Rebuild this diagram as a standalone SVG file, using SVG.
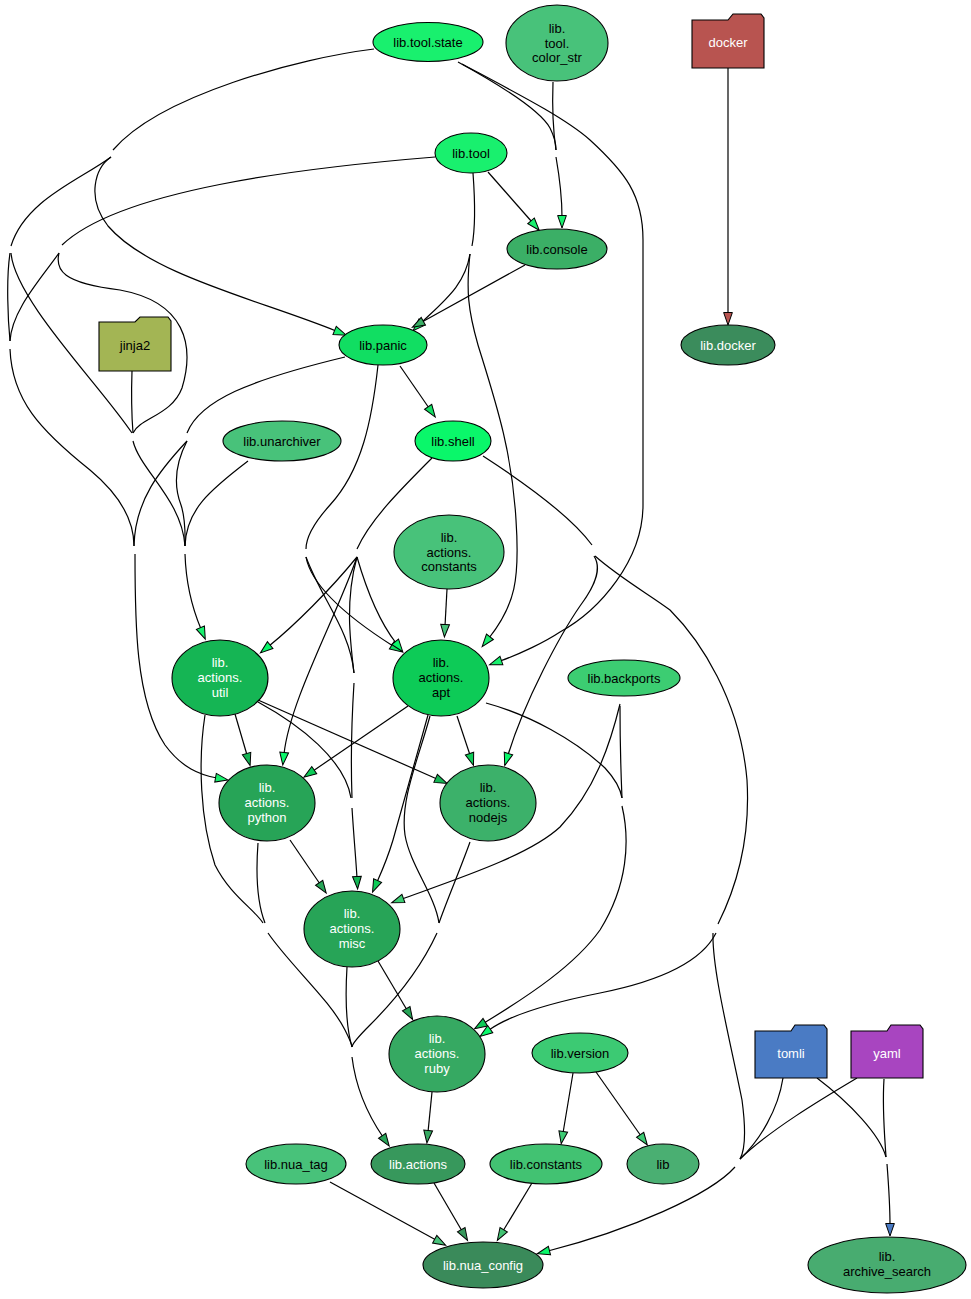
<svg xmlns="http://www.w3.org/2000/svg" width="971" height="1299" viewBox="0 0 971 1299">
<style>
  .node ellipse, .node path { stroke: #000; stroke-width: 1.1; }
  .node text { font-family: "Liberation Sans", Arial, sans-serif; font-size: 13px; text-anchor: middle; fill: #000; }
  .node text.w { fill: #fff; }
  #edges path { fill: none; stroke: #000; stroke-width: 1.2; }
  .ah { stroke: #000; stroke-width: 0.8; }
</style>
<defs>
  <marker id="m-bright" viewBox="0 0 10 7" refX="1.2" refY="3.5" markerWidth="12.5" markerHeight="8.75" markerUnits="userSpaceOnUse" orient="auto" overflow="visible"><path class="ah" d="M0,0 L10,3.5 L0,7 Z" fill="#19F06E"/></marker>
  <marker id="m-console" viewBox="0 0 10 7" refX="1.2" refY="3.5" markerWidth="12.5" markerHeight="8.75" markerUnits="userSpaceOnUse" orient="auto" overflow="visible"><path class="ah" d="M0,0 L10,3.5 L0,7 Z" fill="#3BAF66"/></marker>
  <marker id="m-panic" viewBox="0 0 10 7" refX="1.2" refY="3.5" markerWidth="12.5" markerHeight="8.75" markerUnits="userSpaceOnUse" orient="auto" overflow="visible"><path class="ah" d="M0,0 L10,3.5 L0,7 Z" fill="#11DE62"/></marker>
  <marker id="m-shell" viewBox="0 0 10 7" refX="1.2" refY="3.5" markerWidth="12.5" markerHeight="8.75" markerUnits="userSpaceOnUse" orient="auto" overflow="visible"><path class="ah" d="M0,0 L10,3.5 L0,7 Z" fill="#0AF76A"/></marker>
  <marker id="m-util" viewBox="0 0 10 7" refX="1.2" refY="3.5" markerWidth="12.5" markerHeight="8.75" markerUnits="userSpaceOnUse" orient="auto" overflow="visible"><path class="ah" d="M0,0 L10,3.5 L0,7 Z" fill="#15B554"/></marker>
  <marker id="m-apt" viewBox="0 0 10 7" refX="1.2" refY="3.5" markerWidth="12.5" markerHeight="8.75" markerUnits="userSpaceOnUse" orient="auto" overflow="visible"><path class="ah" d="M0,0 L10,3.5 L0,7 Z" fill="#0DCB57"/></marker>
  <marker id="m-python" viewBox="0 0 10 7" refX="1.2" refY="3.5" markerWidth="12.5" markerHeight="8.75" markerUnits="userSpaceOnUse" orient="auto" overflow="visible"><path class="ah" d="M0,0 L10,3.5 L0,7 Z" fill="#27A457"/></marker>
  <marker id="m-ruby" viewBox="0 0 10 7" refX="1.2" refY="3.5" markerWidth="12.5" markerHeight="8.75" markerUnits="userSpaceOnUse" orient="auto" overflow="visible"><path class="ah" d="M0,0 L10,3.5 L0,7 Z" fill="#36A962"/></marker>
  <marker id="m-back" viewBox="0 0 10 7" refX="1.2" refY="3.5" markerWidth="12.5" markerHeight="8.75" markerUnits="userSpaceOnUse" orient="auto" overflow="visible"><path class="ah" d="M0,0 L10,3.5 L0,7 Z" fill="#3CCD72"/></marker>
  <marker id="m-version" viewBox="0 0 10 7" refX="1.2" refY="3.5" markerWidth="12.5" markerHeight="8.75" markerUnits="userSpaceOnUse" orient="auto" overflow="visible"><path class="ah" d="M0,0 L10,3.5 L0,7 Z" fill="#3CCA73"/></marker>
  <marker id="m-tag" viewBox="0 0 10 7" refX="1.2" refY="3.5" markerWidth="12.5" markerHeight="8.75" markerUnits="userSpaceOnUse" orient="auto" overflow="visible"><path class="ah" d="M0,0 L10,3.5 L0,7 Z" fill="#48C27A"/></marker>
  <marker id="m-actions" viewBox="0 0 10 7" refX="1.2" refY="3.5" markerWidth="12.5" markerHeight="8.75" markerUnits="userSpaceOnUse" orient="auto" overflow="visible"><path class="ah" d="M0,0 L10,3.5 L0,7 Z" fill="#37985C"/></marker>
  <marker id="m-const" viewBox="0 0 10 7" refX="1.2" refY="3.5" markerWidth="12.5" markerHeight="8.75" markerUnits="userSpaceOnUse" orient="auto" overflow="visible"><path class="ah" d="M0,0 L10,3.5 L0,7 Z" fill="#42C272"/></marker>
  <marker id="m-tomli" viewBox="0 0 10 7" refX="1.2" refY="3.5" markerWidth="12.5" markerHeight="8.75" markerUnits="userSpaceOnUse" orient="auto" overflow="visible"><path class="ah" d="M0,0 L10,3.5 L0,7 Z" fill="#4A7BC4"/></marker>
  <marker id="m-docker" viewBox="0 0 10 7" refX="1.2" refY="3.5" markerWidth="12.5" markerHeight="8.75" markerUnits="userSpaceOnUse" orient="auto" overflow="visible"><path class="ah" d="M0,0 L10,3.5 L0,7 Z" fill="#B85450"/></marker>
</defs>
<rect width="971" height="1299" fill="#fff"/>

<g id="edges">
  <!-- upper-left bundle -->
  <path d="M374,49 C300,58 160,95 113,150"/>
  <path d="M111,157 C80,180 25,200 11,246"/>
  <path d="M111,157 C95,168 86,198 108,226 C150,275 260,300 336,331" marker-end="url(#m-bright)"/>
  <path d="M435,157 C300,168 120,190 62,245"/>
  <path d="M10,253 C6,280 8,320 10,341"/>
  <path d="M11,253 C15,300 100,385 132,433"/>
  <path d="M59,253 C55,270 62,283 120,290 C185,302 195,345 182,388 C172,415 140,418 133,433"/>
  <path d="M59,253 C40,280 12,310 10,341"/>
  <path d="M132,371 C131,400 132,420 133,433"/>
  <path d="M10,349 C12,400 40,430 90,470 C120,495 134,520 134,546"/>
  <path d="M133,441 C140,470 182,500 185,546"/>
  <path d="M345,357 C250,380 200,400 187,433"/>
  <path d="M187,441 C160,470 135,500 134,546"/>
  <path d="M187,441 C172,470 176,492 181,505 C186,520 185,535 185,546"/>
  <path d="M248,461 C210,490 186,510 185,546"/>
  <path d="M185,554 C186,585 193,610 201,629" marker-end="url(#m-bright)"/>
  <path d="M135,554 C135,620 135,700 165,745 C182,768 200,775 217,778" marker-end="url(#m-bright)"/>

  <!-- top-middle -->
  <path d="M458,62 C500,85 540,110 550,128 C555,138 556,145 556,150"/>
  <path d="M553,82 C552,110 553,130 556,150"/>
  <path d="M556,157 C560,180 562,200 562,217" marker-end="url(#m-bright)"/>
  <path d="M462,64 C520,95 565,118 590,140 C625,172 643,195 643,240 L643,505 C643,560 600,610 560,632 C545,642 520,654 500,661" marker-end="url(#m-bright)"/>
  <path d="M488,172 L532,222" marker-end="url(#m-bright)"/>
  <path d="M473,173 C475,200 476,225 472,246"/>
  <path d="M470,254 C465,285 445,300 421,323" marker-end="url(#m-bright)"/>
  <path d="M470,254 C466,290 468,310 478,345 C495,400 512,450 516,520 C520,580 515,605 489,638" marker-end="url(#m-bright)"/>
  <path d="M525,265 L422,322" marker-end="url(#m-console)"/>
  <path d="M728,68 L728,314" marker-end="url(#m-docker)"/>

  <!-- middle -->
  <path d="M400,366 L429,408" marker-end="url(#m-panic)"/>
  <path d="M378,365 C372,420 362,470 330,505 C312,525 306,540 306,549"/>
  <path d="M306,557 C312,590 360,625 393,646" marker-end="url(#m-panic)"/>
  <path d="M306,557 C322,600 350,630 354,673"/>
  <path d="M432,458 C400,490 370,520 357,549"/>
  <path d="M357,557 C330,590 295,625 269,646" marker-end="url(#m-shell)"/>
  <path d="M357,557 C335,620 290,700 284,754" marker-end="url(#m-shell)"/>
  <path d="M357,557 C368,595 382,625 396,643" marker-end="url(#m-shell)"/>
  <path d="M357,557 C345,600 350,640 354,673"/>
  <path d="M354,683 C351,730 351,770 352,798"/>
  <path d="M258,702 C300,725 345,760 351,798"/>
  <path d="M352,808 C354,840 356,860 357,878" marker-end="url(#m-util)"/>
  <path d="M447,589 L445,626" marker-end="url(#m-tag)"/>
  <path d="M408,706 L313,771" marker-end="url(#m-apt)"/>
  <path d="M457,716 L470,755" marker-end="url(#m-apt)"/>
  <path d="M235,714 L247,755" marker-end="url(#m-util)"/>
  <path d="M258,700 L437,779" marker-end="url(#m-util)"/>

  <!-- right side -->
  <path d="M483,456 C520,480 570,515 592,545"/>
  <path d="M594,556 C601,567 598,582 580,606 C560,635 525,700 508,755" marker-end="url(#m-shell)"/>
  <path d="M595,556 C620,578 650,595 670,610 C700,640 740,700 747,780 C750,830 740,880 718,924"/>
  <path d="M486,703 C530,715 575,740 605,768 C618,782 621,792 622,798"/>
  <path d="M620,706 C620,740 621,775 622,798"/>
  <path d="M620,704 C610,745 595,790 560,827 C530,855 460,878 402,899" marker-end="url(#m-back)"/>
  <path d="M622,806 C630,840 628,885 600,930 C575,965 530,995 484,1023" marker-end="url(#m-apt)"/>
  <path d="M716,933 C700,965 650,983 600,993 C550,1003 510,1015 489,1030" marker-end="url(#m-shell)"/>
  <path d="M713,933 C712,970 730,1040 742,1100 C746,1130 745,1150 740,1159"/>
  <path d="M783,1078 C778,1110 760,1140 740,1159"/>
  <path d="M857,1078 C820,1100 770,1130 740,1159"/>
  <path d="M735,1167 C710,1195 630,1230 548,1251" marker-end="url(#m-shell)"/>
  <path d="M817,1078 C850,1103 880,1135 886,1157"/>
  <path d="M884,1079 C882,1110 885,1140 886,1157"/>
  <path d="M887,1164 C889,1190 890,1210 890,1225" marker-end="url(#m-tomli)"/>

  <!-- lower-middle -->
  <path d="M428,715 C415,760 403,805 393,840 C387,860 381,873 377,882" marker-end="url(#m-apt)"/>
  <path d="M430,716 C418,760 400,800 405,835 C410,865 435,895 439,923"/>
  <path d="M470,842 C460,870 447,900 439,923"/>
  <path d="M437,933 C420,970 395,1000 370,1025 C355,1040 352,1045 352,1047"/>
  <path d="M290,840 L320,884" marker-end="url(#m-python)"/>
  <path d="M258,843 C256,870 256,900 265,923"/>
  <path d="M205,715 C198,760 200,820 215,865 C230,895 255,910 263,923"/>
  <path d="M268,933 C290,965 330,1000 345,1030 C350,1040 352,1045 352,1047"/>
  <path d="M347,967 C345,1000 347,1030 352,1047"/>
  <path d="M352,1057 C356,1090 368,1115 383,1137" marker-end="url(#m-python)"/>
  <path d="M378,961 L407,1010" marker-end="url(#m-python)"/>
  <path d="M432,1092 L428,1132" marker-end="url(#m-ruby)"/>

  <!-- bottom -->
  <path d="M573,1073 L563,1133" marker-end="url(#m-version)"/>
  <path d="M596,1072 L641,1136" marker-end="url(#m-version)"/>
  <path d="M330,1182 L436,1240" marker-end="url(#m-tag)"/>
  <path d="M434,1183 L462,1231" marker-end="url(#m-actions)"/>
  <path d="M532,1183 L503,1231" marker-end="url(#m-const)"/>
</g>

<g id="lib_tool_state" class="node"><ellipse cx="428" cy="42" rx="55" ry="19.5" fill="#19F06E"/><text x="428" y="46.5">lib.tool.state</text></g>
<g id="lib_tool_color_str" class="node"><ellipse cx="557" cy="43" rx="51" ry="38" fill="#48C27A"/><text x="557" y="33">lib.</text><text x="557" y="47.5">tool.</text><text x="557" y="62">color_str</text></g>
<g id="docker" class="node"><path d="M692,20 L728,20 L733,14 L761,14 L764,18 L764,68 L692,68 Z" fill="#B85450"/><text class="w" x="728" y="47">docker</text></g>
<g id="lib_tool" class="node"><ellipse cx="471" cy="153" rx="36" ry="20" fill="#19F06E"/><text x="471" y="157.5">lib.tool</text></g>
<g id="lib_console" class="node"><ellipse cx="557" cy="249" rx="50" ry="20" fill="#3BAF66"/><text x="557" y="253.5">lib.console</text></g>
<g id="lib_panic" class="node"><ellipse cx="383" cy="345" rx="44" ry="20" fill="#11DE62"/><text x="383" y="349.5">lib.panic</text></g>
<g id="lib_docker" class="node"><ellipse cx="728" cy="345" rx="47" ry="20" fill="#3B8C5C"/><text class="w" x="728" y="349.5">lib.docker</text></g>
<g id="jinja2" class="node"><path d="M99,322 L135,322 L140,317 L168,317 L171,321 L171,371 L99,371 Z" fill="#A3B554"/><text x="135" y="350">jinja2</text></g>
<g id="lib_unarchiver" class="node"><ellipse cx="282" cy="441" rx="59" ry="20" fill="#48C27A"/><text x="282" y="445.5">lib.unarchiver</text></g>
<g id="lib_shell" class="node"><ellipse cx="453" cy="441" rx="38" ry="20" fill="#0AF76A"/><text x="453" y="445.5">lib.shell</text></g>
<g id="lib_actions_constants" class="node"><ellipse cx="449" cy="552" rx="55" ry="37" fill="#48C27A"/><text x="449" y="542">lib.</text><text x="449" y="556.5">actions.</text><text x="449" y="571">constants</text></g>
<g id="lib_actions_util" class="node"><ellipse cx="220" cy="678" rx="48" ry="38" fill="#15B554"/><text class="w" x="220" y="667">lib.</text><text class="w" x="220" y="682">actions.</text><text class="w" x="220" y="697">util</text></g>
<g id="lib_actions_apt" class="node"><ellipse cx="441" cy="678" rx="48" ry="38" fill="#0DCB57"/><text x="441" y="667">lib.</text><text x="441" y="682">actions.</text><text x="441" y="697">apt</text></g>
<g id="lib_backports" class="node"><ellipse cx="624" cy="678" rx="56" ry="18" fill="#3CCD72"/><text x="624" y="682.5">lib.backports</text></g>
<g id="lib_actions_python" class="node"><ellipse cx="267" cy="803" rx="48" ry="38" fill="#27A457"/><text class="w" x="267" y="792">lib.</text><text class="w" x="267" y="807">actions.</text><text class="w" x="267" y="822">python</text></g>
<g id="lib_actions_nodejs" class="node"><ellipse cx="488" cy="803" rx="48" ry="38" fill="#3CB16A"/><text x="488" y="792">lib.</text><text x="488" y="807">actions.</text><text x="488" y="822">nodejs</text></g>
<g id="lib_actions_misc" class="node"><ellipse cx="352" cy="929" rx="48" ry="38" fill="#27A457"/><text class="w" x="352" y="918">lib.</text><text class="w" x="352" y="933">actions.</text><text class="w" x="352" y="948">misc</text></g>
<g id="lib_actions_ruby" class="node"><ellipse cx="437" cy="1054" rx="48" ry="38" fill="#36A962"/><text class="w" x="437" y="1043">lib.</text><text class="w" x="437" y="1058">actions.</text><text class="w" x="437" y="1073">ruby</text></g>
<g id="lib_version" class="node"><ellipse cx="580" cy="1053" rx="48" ry="20" fill="#3CCA73"/><text x="580" y="1057.5">lib.version</text></g>
<g id="tomli" class="node"><path d="M755,1031 L791,1031 L795,1025 L824,1025 L827,1029 L827,1078 L755,1078 Z" fill="#4A7BC4"/><text class="w" x="791" y="1058">tomli</text></g>
<g id="yaml" class="node"><path d="M851,1031 L887,1031 L891,1025 L920,1025 L923,1029 L923,1078 L851,1078 Z" fill="#A845C0"/><text class="w" x="887" y="1058">yaml</text></g>
<g id="lib_nua_tag" class="node"><ellipse cx="296" cy="1164" rx="50" ry="20" fill="#48C27A"/><text x="296" y="1168.5">lib.nua_tag</text></g>
<g id="lib_actions" class="node"><ellipse cx="418" cy="1164" rx="47" ry="20" fill="#37985C"/><text class="w" x="418" y="1168.5">lib.actions</text></g>
<g id="lib_constants" class="node"><ellipse cx="546" cy="1164" rx="56" ry="20" fill="#42C272"/><text x="546" y="1168.5">lib.constants</text></g>
<g id="lib" class="node"><ellipse cx="663" cy="1164" rx="36" ry="20" fill="#4AAF72"/><text x="663" y="1168.5">lib</text></g>
<g id="lib_nua_config" class="node"><ellipse cx="483" cy="1265" rx="60" ry="23" fill="#3A8A5A"/><text class="w" x="483" y="1269.5">lib.nua_config</text></g>
<g id="lib_archive_search" class="node"><ellipse cx="887" cy="1265" rx="79" ry="28" fill="#48AC70"/><text x="887" y="1261">lib.</text><text x="887" y="1276">archive_search</text></g>
</svg>
